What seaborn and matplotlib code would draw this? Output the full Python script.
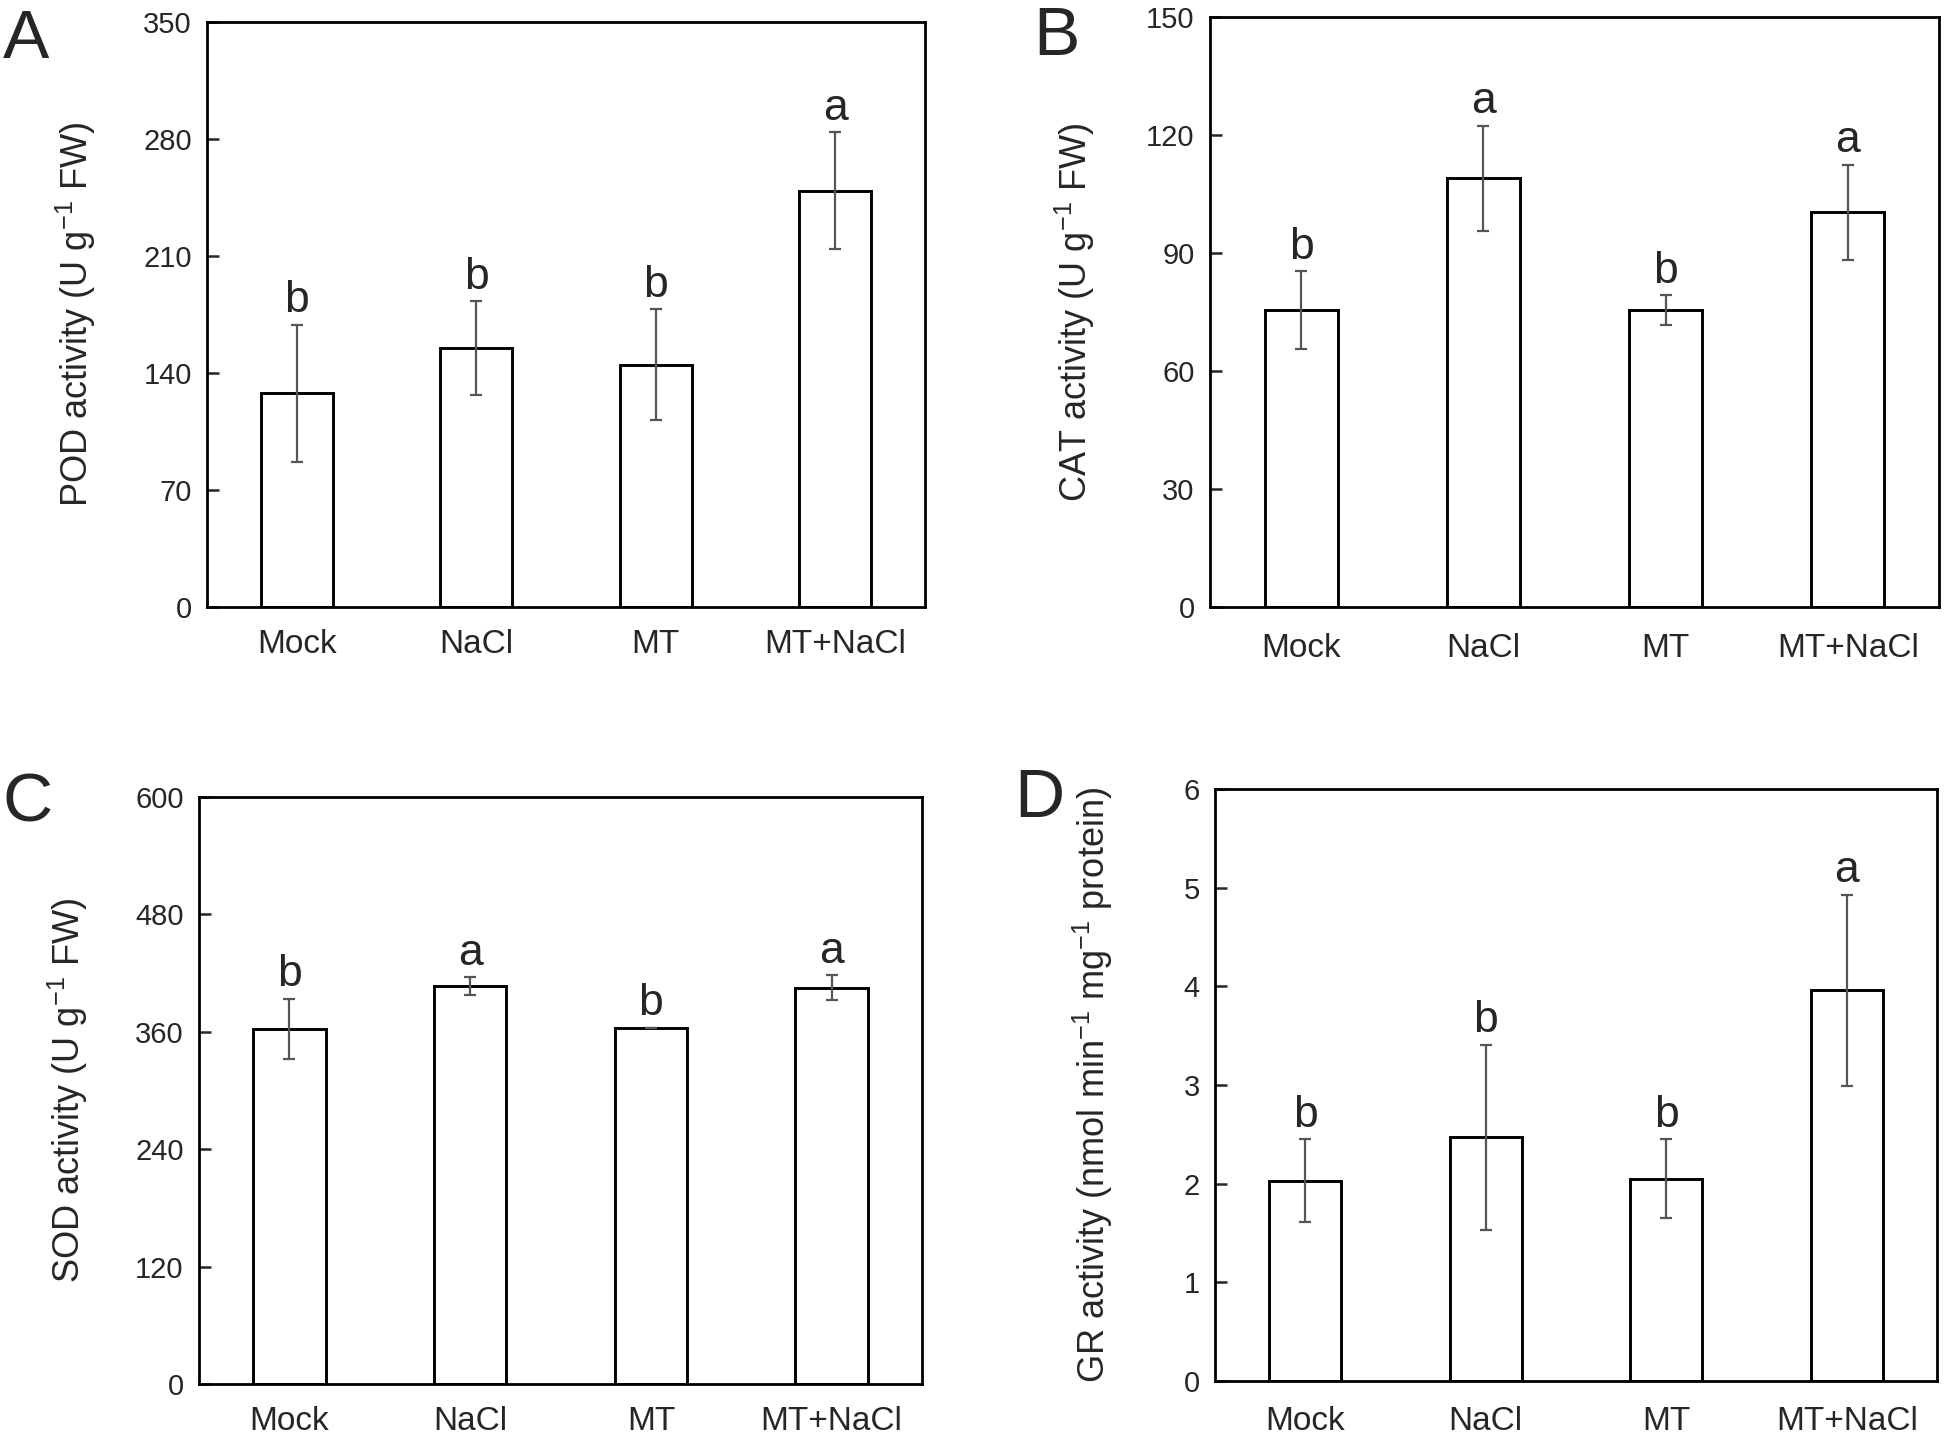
import numpy as np
import pandas as pd
import matplotlib
matplotlib.use("Agg")
import matplotlib.pyplot as plt
import seaborn as sns

# Data
treatments = ["Mock", "NaCl", "MT", "MT+NaCl"]

pod_mean = [128, 155, 145, 249]
pod_err = [41, 28, 33, 35]
pod_sig = ["b", "b", "b", "a"]

cat_mean = [75.5, 109, 75.5, 100.3]
cat_err = [9.8, 13.3, 3.8, 12.1]
cat_sig = ["b", "a", "b", "a"]

sod_mean = [363, 407, 364, 405]
sod_err = [31, 9, 0, 13]
sod_sig = ["b", "a", "b", "a"]

gr_mean = [2.03, 2.47, 2.05, 3.96]
gr_err = [0.42, 0.94, 0.40, 0.97]
gr_sig = ["b", "b", "b", "a"]

sns.set_style("ticks")
plt.rcParams['font.family'] = ['Liberation Sans', 'DejaVu Sans']
plt.rcParams['mathtext.fontset'] = 'custom'
plt.rcParams['mathtext.rm'] = 'Liberation Sans'

W, H = 1946, 1435
fig = plt.figure(figsize=(W / 100, H / 100), dpi=100)


def rect(x0, x1, y0, y1):
    # pixel box -> figure fraction
    return [x0 / W, 1 - y1 / H, (x1 - x0) / W, (y1 - y0) / H]


panels = [
    # letter, mean, err, sig, ylabel, ymax, step, axes box, letter pos, xtick pad, ylabel offset px
    ("A", pod_mean, pod_err, pod_sig, r"POD activity (U g$^{-1}$ FW)", 350, 70,
     rect(207, 925, 22, 607), (3, 58), 16, -109),
    ("B", cat_mean, cat_err, cat_sig, r"CAT activity (U g$^{-1}$ FW)", 150, 30,
     rect(1210, 1939, 17, 607), (1033, 55), 19, -113),
    ("C", sod_mean, sod_err, sod_sig, r"SOD activity (U g$^{-1}$ FW)", 600, 120,
     rect(199, 922, 797, 1384), (3, 822), 16, -109),
    ("D", gr_mean, gr_err, gr_sig, r"GR activity (nmol min$^{-1}$ mg$^{-1}$ protein)", 6, 1,
     rect(1215, 1937, 789, 1381), (1014, 817), 18, -100),
]

for letter, mean, err, sig, ylab, ymax, step, box, lpos, xpad, yoff in panels:
    ax = fig.add_axes(box)
    df = pd.DataFrame({"treatment": treatments, "value": mean})
    sns.barplot(data=df, x="treatment", y="value", color="white", edgecolor="black",
                linewidth=2.1, width=0.4, errorbar=None, ax=ax)
    xs = np.arange(len(treatments))
    ax.errorbar(xs, mean, yerr=err, fmt="none", ecolor="#555555", elinewidth=1.6,
                capsize=4, capthick=1.6)
    for x, m, e, s in zip(xs, mean, err, sig):
        ax.annotate(s, (x, m + e), xytext=(0, 9), textcoords="offset points",
                    ha="center", va="baseline", fontsize=32)
    ax.set_xlim(-0.5, 3.5)
    ax.set_ylim(0, ymax)
    ax.set_yticks(np.arange(0, ymax + step / 2, step))
    ax.set_xlabel("")
    ax.set_ylabel(ylab, fontsize=26)
    ax.yaxis.set_label_coords(yoff / (box[2] * W), 0.5)
    for sp in ax.spines.values():
        sp.set_visible(True)
        sp.set_linewidth(2.0)
        sp.set_color("black")
    ax.tick_params(axis="x", length=0, pad=xpad, labelsize=24)
    ax.tick_params(axis="y", direction="in", length=8.5, width=1.8, pad=11, labelsize=21)
    fig.text(lpos[0] / W, 1 - lpos[1] / H, letter, fontsize=50,
             ha="left", va="baseline")

fig.savefig("out.png", dpi=100)
